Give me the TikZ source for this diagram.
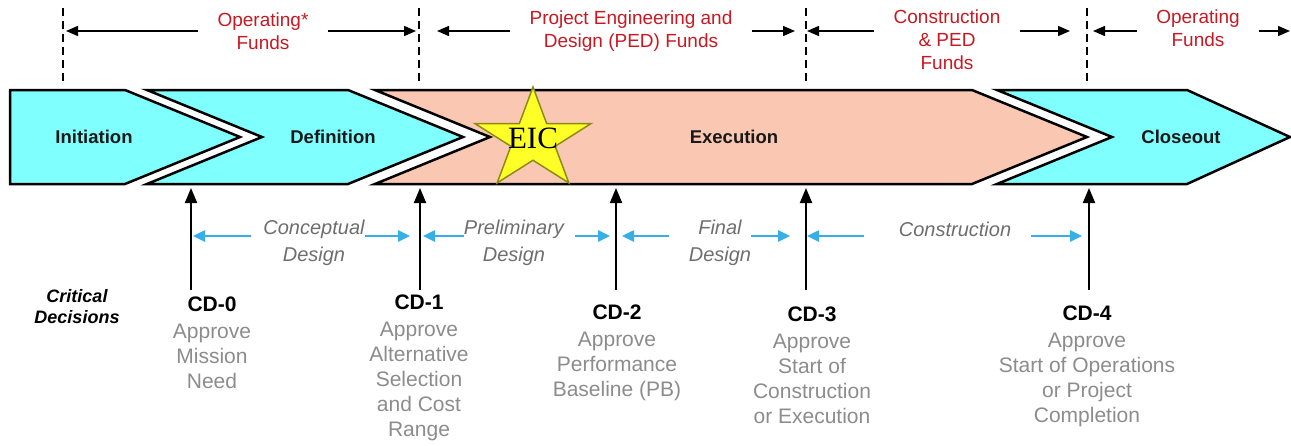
\documentclass[tikz,border=0pt]{standalone}
\usepackage{fontspec}
\setmainfont{Liberation Sans}
\newfontfamily\eicfont{Liberation Serif}
\usetikzlibrary{shapes.geometric,arrows.meta}
\definecolor{fundred}{RGB}{200,25,35}
\definecolor{phasecyan}{RGB}{128,255,255}
\definecolor{phasepeach}{RGB}{250,200,178}
\definecolor{designblue}{RGB}{55,175,230}
\definecolor{notegrey}{RGB}{140,140,140}
\definecolor{stagegrey}{RGB}{110,110,110}
\definecolor{starfill}{RGB}{255,255,40}
\definecolor{staredge}{RGB}{140,140,20}
\begin{document}
\begin{tikzpicture}[x=1pt,y=-1pt,
  phase/.style={draw=black,line width=2.5pt,line join=miter},
  phaselabel/.style={inner sep=0pt,text=black!90,font=\fontsize{18.5}{22}\selectfont\bfseries},
  fundtext/.style={text=fundred,align=center,inner xsep=19pt,inner ysep=0pt,font=\fontsize{19}{23}\selectfont},
  fundarrow/.style={line width=1.5pt,-{Triangle[length=12pt,width=10pt]}},
  dashline/.style={line width=1.5pt,dash pattern=on 8pt off 5pt},
  designtext/.style={text=stagegrey,align=center,inner sep=0pt,font=\fontsize{20}{27}\selectfont\itshape},
  designarrow/.style={draw=designblue,line width=2.5pt,-{Triangle[length=12pt,width=11pt]}},
  cdarrow/.style={line width=2pt,-{Triangle[length=15pt,width=12pt]}},
  cdtext/.style={text=notegrey,align=center,anchor=north,inner sep=0pt,font=\fontsize{21}{25}\selectfont}]
  \useasboundingbox (0,0) rectangle (1291,445);

  % phase chevrons
  \draw[phase,fill=phasecyan] (10,90) -- (125,90) -- (240,137) -- (125,184) -- (10,184) -- cycle;
  \draw[phase,fill=phasecyan] (147,90) -- (348,90) -- (463,137) -- (348,184) -- (147,184) -- (262,137) -- cycle;
  \draw[phase,fill=phasepeach] (375,90) -- (972,90) -- (1087,137) -- (972,184) -- (375,184) -- (490,137) -- cycle;
  \draw[phase,fill=phasecyan] (997,90) -- (1187,90) -- (1290,137) -- (1187,184) -- (997,184) -- (1112,137) -- cycle;
  \node[phaselabel] (initiation) at (94,137) {Initiation};
  \node[phaselabel] (definition) at (333,137) {Definition};
  \node[phaselabel] (execution) at (734,137) {Execution};
  \node[phaselabel] (closeout) at (1181,137) {Closeout};

  % EIC star
  \node[star,star points=5,star point ratio=2.618,minimum size=106pt,inner sep=0pt,
    xscale=1.15,transform shape,fill=starfill,draw=staredge,line width=1.5pt] (eic) at (533,140) {};
  \node[inner sep=0pt,font=\eicfont\fontsize{31}{31}\selectfont] (eiclabel) at ([yshift=2pt]eic.center) {EIC};

  % funding periods
  \foreach \x in {63,419,806,1087}
    \draw[dashline] (\x,8) -- (\x,82);
  \coordinate (op1l) at (66,31);
  \coordinate (op1r) at (416,31);
  \coordinate (pedl) at (437,31);
  \coordinate (pedr) at (795,31);
  \coordinate (cpedl) at (807,31);
  \coordinate (cpedr) at (1070,31);
  \coordinate (op2l) at (1093,31);
  \coordinate (op2r) at (1290,31);
  \node[fundtext] (opfunds) at (263,31) {Operating*\\Funds};
  \node[fundtext] (pedfunds) at (631,31.5) {Project Engineering and\\Design (PED) Funds};
  \node[fundtext] (cpedfunds) at (947,39.5) {Construction\\\& PED\\Funds};
  \node[fundtext] (opfunds2) at (1198,28.5) {Operating\\Funds};
  \draw[fundarrow] (opfunds.west |- op1l) -- (op1l);
  \draw[fundarrow] (opfunds.east |- op1r) -- (op1r);
  \draw[fundarrow] (pedfunds.west |- pedl) -- (pedl);
  \draw[fundarrow] (pedfunds.east |- pedr) -- (pedr);
  \draw[fundarrow] (cpedfunds.west |- cpedl) -- (cpedl);
  \draw[fundarrow] (cpedfunds.east |- cpedr) -- (cpedr);
  \draw[fundarrow] (opfunds2.west |- op2l) -- (op2l);
  \draw[fundarrow] (opfunds2.east |- op2r) -- (op2r);

  % critical decisions
  \coordinate (m0) at (191,188);
  \coordinate (m1) at (420,188);
  \coordinate (m2) at (616,188);
  \coordinate (m3) at (806,188);
  \coordinate (m4) at (1089,188);
  \node[inner sep=0pt,align=center,font=\fontsize{18}{21}\selectfont\bfseries\itshape] (critical) at (77,307) {Critical\\Decisions};
  \node[cdtext] (cd0) at (212,297) {\textbf{\color{black}CD-0}\\[2pt]Approve\\Mission\\Need};
  \node[cdtext] (cd1) at (419,295) {\textbf{\color{black}CD-1}\\[2pt]Approve\\Alternative\\Selection\\and Cost\\Range};
  \node[cdtext] (cd2) at (617,305) {\textbf{\color{black}CD-2}\\[2pt]Approve\\Performance\\Baseline (PB)};
  \node[cdtext] (cd3) at (812,307) {\textbf{\color{black}CD-3}\\[2pt]Approve\\Start of\\Construction\\or Execution};
  \node[cdtext] (cd4) at (1087,306) {\textbf{\color{black}CD-4}\\[2pt]Approve\\Start of Operations\\or Project\\Completion};
  \draw[cdarrow,shorten <=7pt] (cd0.north -| m0) -- (m0);
  \draw[cdarrow,shorten <=5pt] (cd1.north -| m1) -- (m1);
  \draw[cdarrow,shorten <=15pt] (cd2.north -| m2) -- (m2);
  \draw[cdarrow,shorten <=17pt] (cd3.north -| m3) -- (m3);
  \draw[cdarrow,shorten <=16pt] (cd4.north -| m4) -- (m4);

  % design stages
  \coordinate (concl) at (193,236);
  \coordinate (concr) at (410,236);
  \coordinate (prell) at (423,236);
  \coordinate (prelr) at (610,236);
  \coordinate (finl) at (622,236);
  \coordinate (finr) at (790,236);
  \coordinate (consl) at (807,236);
  \coordinate (consr) at (1082,236);
  \node[designtext] (concept) at (314,242.5) {Conceptual\\Design};
  \node[designtext] (prelim) at (514,242.5) {Preliminary\\Design};
  \node[designtext] (final) at (720,242.5) {Final\\Design};
  \node[designtext] (construct) at (955,229) {Construction};
  \draw[designarrow] ([xshift=-12pt]concept.west |- concl) -- (concl);
  \draw[designarrow] (concept.east |- concr) -- (concr);
  \draw[designarrow] (prelim.west |- prell) -- (prell);
  \draw[designarrow] ([xshift=11pt]prelim.east |- prelr) -- (prelr);
  \draw[designarrow] ([xshift=-20pt]final.west |- finl) -- (finl);
  \draw[designarrow] (final.east |- finr) -- (finr);
  \draw[designarrow] ([xshift=-35pt]construct.west |- consl) -- (consl);
  \draw[designarrow] ([xshift=20pt]construct.east |- consr) -- (consr);
\end{tikzpicture}
\end{document}
